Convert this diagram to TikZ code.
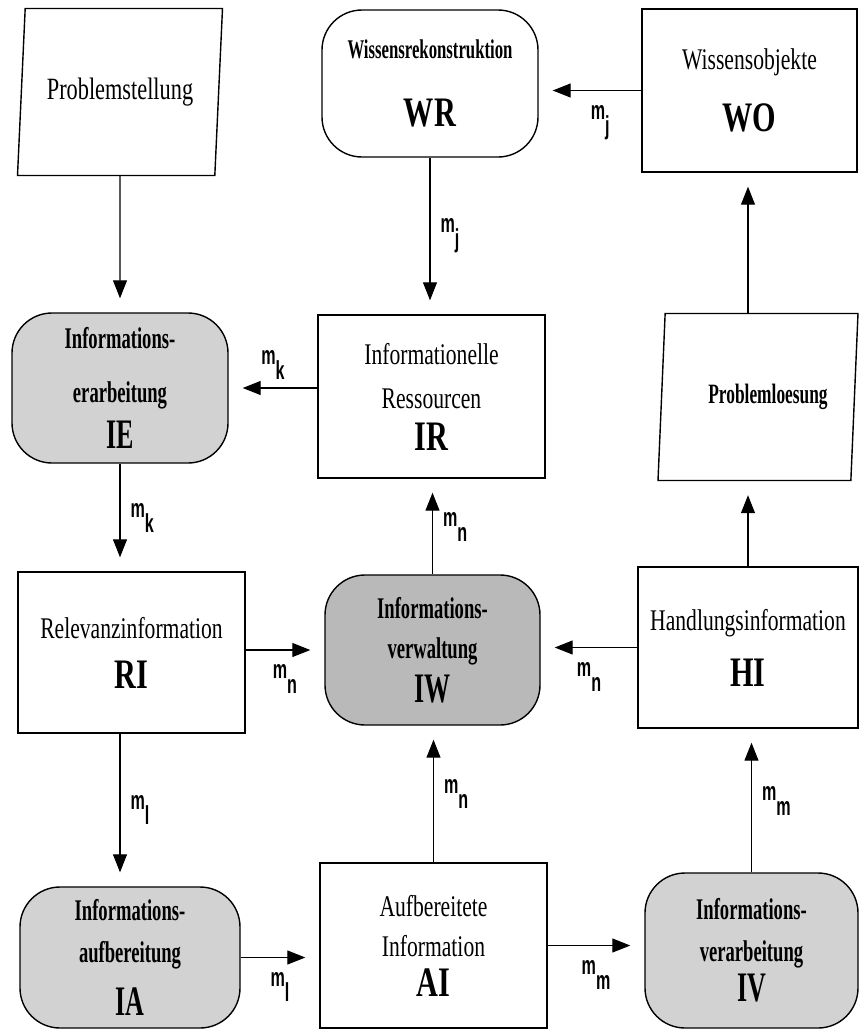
\documentclass[tikz,border=0pt]{standalone}
\usepackage{fontspec}
\setmainfont{Liberation Serif}[FakeStretch=0.72]
\newfontfamily\procfont{Liberation Serif}[FakeStretch=0.62]
\newfontfamily\labfont{Liberation Sans}[FakeStretch=0.62]
\usetikzlibrary{arrows.meta,shapes.geometric}

\newcommand{\msub}[1]{m\raisebox{-7.5pt}{#1}}
\newcommand{\kuerzel}[1]{{\bfseries\fontsize{21}{23}\selectfont #1}}

\tikzset{
  infobox/.style={draw, line width=0.7pt, rectangle, inner sep=2pt, align=center,
    font=\fontsize{15}{17}\selectfont},
  procbox/.style={draw, line width=0.7pt, rounded corners=20pt, fill=gray!35, align=center,
    font=\procfont\bfseries\fontsize{15}{17}\selectfont},
  probbox/.style={draw, line width=0.7pt, trapezium, trapezium left angle=78,
    trapezium right angle=102, trapezium stretches body, minimum height=83.5pt, inner sep=2pt},
  flow/.style={-{Triangle[length=9pt,width=7pt]}, line width=0.55pt, shorten >=7pt},
  mlab/.style={font=\labfont\bfseries\fontsize{13}{13}\selectfont, inner sep=1pt},
}

\begin{document}
\begin{tikzpicture}[x=0.5pt,y=-0.5pt]
    \useasboundingbox (0,0) rectangle (859,1033);
    % obere Reihe
    \node[probbox, minimum width=102.5pt, font=\fontsize{15.5}{17}\selectfont] (ps) at (120,92) {\raisebox{-4pt}{Problemstellung}};
    \node[infobox, rounded corners=20pt, minimum width=108pt, minimum height=73.5pt] (wr) at (430,83.5)
        {{\procfont\bfseries\fontsize{13.5}{15}\selectfont Wissensrekonstruktion}\\[17pt]\kuerzel{WR}};
    \node[infobox, minimum width=107.5pt, minimum height=81.5pt] (wo) at (749.5,90.5)
        {Wissensobjekte\\[13pt]\kuerzel{WO}};
    % zweite Reihe
    \node[procbox, minimum width=108pt, minimum height=75pt] (ie) at (120,388)
        {Informations-\\[10pt]erarbeitung\\[5pt]\kuerzel{IE}};
    \node[infobox, minimum width=113.5pt, minimum height=81.5pt] (ir) at (431.5,396.5)
        {Informationelle\\[5pt]Ressourcen\\[4pt]\kuerzel{IR}};
    \node[probbox, minimum width=100pt, font=\procfont\bfseries\fontsize{14}{15}\selectfont] (pl) at (758,397) {\hspace{10pt}Problemloesung};
    % dritte Reihe
    \node[infobox, minimum width=113.5pt, minimum height=80.5pt] (ri) at (131.5,652.5)
        {Relevanzinformation\\[8pt]\kuerzel{RI}};
    \node[procbox, fill=gray!55, minimum width=107.5pt, minimum height=75pt] (iw) at (432.5,650)
        {Informations-\\[3pt]verwaltung\\[4pt]\kuerzel{IW}};
    \node[infobox, minimum width=110pt, minimum height=80.5pt] (hi) at (748,647.5)
        {Handlungsinformation\\[11pt]\kuerzel{HI}};
    % untere Reihe
    \node[procbox, minimum width=110pt, minimum height=70.5pt] (ia) at (130,957.5)
        {Informations-\\[4pt]aufbereitung\\[8pt]\kuerzel{IA}};
    \node[infobox, minimum width=113.5pt, minimum height=82.5pt] (ai) at (433.5,945.5)
        {Aufbereitete\\[3pt]Information\\[3pt]\kuerzel{AI}};
    \node[procbox, minimum width=106.5pt, minimum height=77.5pt] (iv) at (751.5,950.5)
        {Informations-\\[4pt]verarbeitung\\[2pt]\kuerzel{IV}};
    % Fluesse
    \draw[flow] (ps.south) -- (ie.north);
    \draw[flow] (wo.west) -- (wr.east |- wo.west) node[mlab, pos=0.4, below=6pt] {\msub{j}};
    \draw[flow] (wr.south) -- (wr.south |- ir.north) node[mlab, midway, right=4pt] {\msub{j}};
    \draw[flow] (ir.west |- ie.east) -- (ie.east) node[mlab, midway, above=3pt] {\msub{k}};
    \draw[flow] (ie.south) -- (ie.south |- ri.north) node[mlab, midway, right=4pt] {\msub{k}};
    \draw[flow] (iw.west -| ri.east) -- (iw.west) node[mlab, midway, below=6pt] {\msub{n}};
    \draw[flow] (iw.north) -- (iw.north |- ir.south) node[mlab, midway, right=4pt] {\msub{n}};
    \draw[flow] (hi.west) -- (hi.west -| iw.east) node[mlab, midway, below=6pt] {\msub{n}};
    \draw[flow] (hi.north) -- (hi.north |- pl.south);
    \draw[flow] (hi.north |- pl.north) -- (hi.north |- wo.south);
    \draw[flow] (ri.south -| ie.south) -- (ia.north -| ie.south) node[mlab, midway, right=4pt] {\msub{l}};
    \draw[flow] (ia.east) -- (ia.east -| ai.west) node[mlab, midway, below=6pt] {\msub{l}};
    \draw[flow] (ai.north) -- (ai.north |- iw.south) node[mlab, midway, right=4pt] {\msub{n}};
    \draw[flow] (ai.east) -- (ai.east -| iv.west) node[mlab, midway, below=6pt] {\msub{m}};
    \draw[flow] (iv.north) -- (iv.north |- hi.south) node[mlab, midway, right=4pt] {\msub{m}};
\end{tikzpicture}
\end{document}
